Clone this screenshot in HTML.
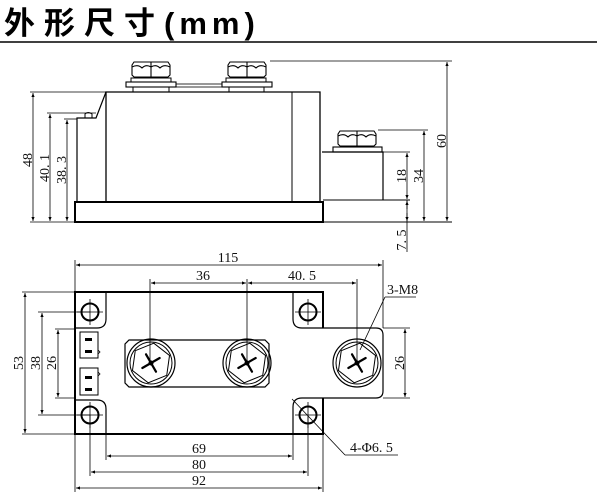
<!DOCTYPE html>
<html><head><meta charset="utf-8"><style>
html,body{margin:0;padding:0;background:#fff;width:600px;height:502px;overflow:hidden}
svg{display:block}
.t{font-family:"Liberation Serif",serif;font-size:14px;fill:#111}
</style></head><body>
<svg width="600" height="502" viewBox="0 0 600 502" xmlns="http://www.w3.org/2000/svg">
<defs>
<marker id="a" viewBox="0 0 10 10" refX="10" refY="5" markerWidth="7" markerHeight="5" orient="auto-start-reverse"><path d="M0,1 L10,5 L0,9 z" fill="#000"/></marker>
<g id="scr">
<circle r="24" fill="none" stroke="#000" stroke-width="1.2"/>
<circle r="21" fill="none" stroke="#000" stroke-width="1"/>
<polygon points="0,-20 17.3,-10 17.3,10 0,20 -17.3,10 -17.3,-10" fill="none" stroke="#000" stroke-width="1" transform="rotate(8)"/>
<g transform="rotate(-30)" stroke="#000" stroke-width="2.2" stroke-linecap="round"><line x1="-10" y1="0" x2="10" y2="0"/><line x1="0" y1="-10" x2="0" y2="10"/></g>
<circle r="2.5" fill="#000"/>
</g>
<g id="hole"><circle r="8.5" fill="none" stroke="#000" stroke-width="2"/><line x1="-13" y1="0" x2="13" y2="0" stroke="#000" stroke-width="0.8"/><line x1="0" y1="-13" x2="0" y2="13" stroke="#000" stroke-width="0.8"/></g>
<g id="nut"><path d="M2,0 H36 L38,3 V13 L36,15 H2 L0,13 V3 Z M19,0 V15 M0,5 Q6,2 10,6 Q14,2 19,5 Q24,2 28,6 Q32,2 38,5" fill="none" stroke="#000" stroke-width="1.1"/></g>
</defs>
<text x="4" y="34" style="font-family:'Liberation Sans','Noto Sans CJK SC',sans-serif;font-size:31px;font-weight:bold" fill="#000"><tspan style="letter-spacing:9px">外形尺寸</tspan><tspan style="letter-spacing:5px">(mm)</tspan></text>
<line x1="0" y1="42" x2="597" y2="42" stroke="#000" stroke-width="1.5"/>

<g fill="none" stroke="#000">
<rect x="75" y="202" width="248" height="20" stroke-width="2"/>
<path d="M106,202 V92 H320 V202" stroke-width="1.3"/>
<line x1="292" y1="92" x2="292" y2="202" stroke-width="1"/>
<path d="M77,202 V118 H96 L106,92" stroke-width="1.2"/>
<path d="M85,118 V114 Q88,111 92,114 V118" stroke-width="1"/>
<rect x="126" y="82" width="50" height="5" stroke-width="1.1"/>
<rect x="222" y="82" width="50" height="5" stroke-width="1.1"/>
<rect x="176" y="84" width="46" height="3" stroke-width="0.8"/>
<line x1="133" y1="87" x2="133" y2="92" stroke-width="1"/><line x1="169" y1="87" x2="169" y2="92" stroke-width="1"/>
<line x1="229" y1="87" x2="229" y2="92" stroke-width="1"/><line x1="264" y1="87" x2="264" y2="92" stroke-width="1"/>
<rect x="131" y="78" width="40" height="4" stroke-width="1"/>
<rect x="226" y="78" width="40" height="4" stroke-width="1"/>
<use href="#nut" x="132" y="62"/>
<use href="#nut" x="228" y="62"/>
<path d="M322,152 H383 V200" stroke-width="1.2"/>
<line x1="323" y1="200" x2="410" y2="200" stroke-width="1.1"/>
<line x1="323" y1="222" x2="452" y2="222" stroke-width="1"/>
<rect x="333" y="147" width="49" height="5" stroke-width="1.1"/>
<use href="#nut" x="338" y="131"/>
</g>
<g stroke="#000" stroke-width="0.8" fill="none">
<line x1="30" y1="92" x2="106" y2="92"/><line x1="30" y1="222" x2="75" y2="222"/>
<line x1="47" y1="113" x2="96" y2="113"/><line x1="64" y1="119" x2="77" y2="119"/>
<line x1="33" y1="93" x2="33" y2="221" marker-start="url(#a)" marker-end="url(#a)"/>
<line x1="50" y1="114" x2="50" y2="221" marker-start="url(#a)" marker-end="url(#a)"/>
<line x1="67" y1="120" x2="67" y2="221" marker-start="url(#a)" marker-end="url(#a)"/>
<line x1="270" y1="61" x2="452" y2="61"/><line x1="378" y1="130" x2="428" y2="130"/>
<line x1="383" y1="152" x2="410" y2="152"/>
<line x1="447" y1="62" x2="447" y2="221" marker-start="url(#a)" marker-end="url(#a)"/>
<line x1="424" y1="131" x2="424" y2="221" marker-start="url(#a)" marker-end="url(#a)"/>
<line x1="407" y1="153" x2="407" y2="199" marker-start="url(#a)" marker-end="url(#a)"/>
<line x1="407" y1="200" x2="407" y2="252"/>
<line x1="407" y1="209" x2="407" y2="201" marker-end="url(#a)"/>
<line x1="407" y1="213" x2="407" y2="221" marker-end="url(#a)"/>
</g>
<g class="t">
<text transform="translate(32,160) rotate(-90)" text-anchor="middle">48</text>
<text transform="translate(49,168) rotate(-90)" text-anchor="middle">40. 1</text>
<text transform="translate(66,170) rotate(-90)" text-anchor="middle">38. 3</text>
<text transform="translate(446,141) rotate(-90)" text-anchor="middle">60</text>
<text transform="translate(423,176) rotate(-90)" text-anchor="middle">34</text>
<text transform="translate(406,176) rotate(-90)" text-anchor="middle">18</text>
<text transform="translate(406,240) rotate(-90)" text-anchor="middle">7. 5</text>
</g>

<g fill="none" stroke="#000">
<path d="M323,328 V292 H75 V434 H323 V398" stroke-width="2"/>
<path d="M323,328 H376 Q383,328 383,335 V391 Q383,398 376,398 H323" stroke-width="1.2"/>
<path d="M106,292 V319 Q106,328 97,328 H75" stroke-width="1.2"/>
<path d="M75,400 H97 Q106,400 106,409 V434" stroke-width="1.2"/>
<path d="M293,292 V319 Q293,328 302,328 H323" stroke-width="1.2"/>
<path d="M323,398 H302 Q293,398 293,407 V434" stroke-width="1.2"/>
<rect x="80" y="332" width="18" height="26" stroke-width="1"/>
<rect x="80" y="368" width="18" height="27" stroke-width="1"/>
<path d="M98,350 l2,2 l-2,2 M98,372 l2,2 l-2,2" stroke-width="0.8"/>
<path d="M129,340 H265 L269,344 V383 L265,387 H129 L125,383 V344 Z" stroke-width="1.2"/>
</g>
<g fill="#000"><rect x="85" y="338" width="7" height="3"/><rect x="85" y="350" width="7" height="3"/><rect x="85" y="376" width="7" height="3"/><rect x="85" y="388" width="7" height="3"/></g>
<use href="#hole" x="90" y="312"/><use href="#hole" x="90" y="415"/>
<use href="#hole" x="308" y="312"/><use href="#hole" x="308" y="415"/>
<use href="#scr" x="151" y="363"/><use href="#scr" x="247" y="363"/><use href="#scr" x="357" y="363"/>
<g stroke="#000" stroke-width="0.8" fill="none">
<line x1="75" y1="260" x2="75" y2="292"/><line x1="383" y1="260" x2="383" y2="328"/>
<line x1="76" y1="265" x2="382" y2="265" marker-start="url(#a)" marker-end="url(#a)"/>
<line x1="150" y1="279" x2="150" y2="363"/><line x1="247" y1="279" x2="247" y2="363"/><line x1="357" y1="279" x2="357" y2="363"/>
<line x1="151" y1="283" x2="246" y2="283" marker-start="url(#a)" marker-end="url(#a)"/>
<line x1="248" y1="283" x2="356" y2="283" marker-start="url(#a)" marker-end="url(#a)"/>
<line x1="360" y1="350" x2="385" y2="297"/><line x1="385" y1="297" x2="416" y2="297"/>
<line x1="22" y1="292" x2="75" y2="292"/><line x1="22" y1="434" x2="75" y2="434"/>
<line x1="25" y1="293" x2="25" y2="433" marker-start="url(#a)" marker-end="url(#a)"/>
<line x1="38" y1="312" x2="90" y2="312"/><line x1="38" y1="415" x2="90" y2="415"/>
<line x1="42" y1="313" x2="42" y2="414" marker-start="url(#a)" marker-end="url(#a)"/>
<line x1="55" y1="329" x2="75" y2="329"/><line x1="55" y1="398" x2="75" y2="398"/>
<line x1="58" y1="330" x2="58" y2="397" marker-start="url(#a)" marker-end="url(#a)"/>
<line x1="383" y1="328" x2="410" y2="328"/><line x1="383" y1="398" x2="410" y2="398"/>
<line x1="405" y1="329" x2="405" y2="397" marker-start="url(#a)" marker-end="url(#a)"/>
<line x1="106" y1="434" x2="106" y2="460"/><line x1="293" y1="434" x2="293" y2="460"/>
<line x1="90" y1="415" x2="90" y2="476"/><line x1="308" y1="415" x2="308" y2="476"/>
<line x1="75" y1="434" x2="75" y2="492"/><line x1="323" y1="434" x2="323" y2="492"/>
<line x1="107" y1="456" x2="292" y2="456" marker-start="url(#a)" marker-end="url(#a)"/>
<line x1="91" y1="472" x2="307" y2="472" marker-start="url(#a)" marker-end="url(#a)"/>
<line x1="76" y1="488" x2="322" y2="488" marker-start="url(#a)" marker-end="url(#a)"/>
<line x1="292" y1="399" x2="345" y2="455"/><line x1="345" y1="455" x2="398" y2="455"/>
</g>
<g class="t">
<text x="228" y="262" text-anchor="middle">115</text>
<text x="203" y="280" text-anchor="middle">36</text>
<text x="302" y="280" text-anchor="middle">40. 5</text>
<text x="387" y="294">3-M8</text>
<text x="350" y="452">4-Φ6. 5</text>
<text x="199" y="453" text-anchor="middle">69</text>
<text x="199" y="469" text-anchor="middle">80</text>
<text x="199" y="485" text-anchor="middle">92</text>
<text transform="translate(23,363) rotate(-90)" text-anchor="middle">53</text>
<text transform="translate(40,363) rotate(-90)" text-anchor="middle">38</text>
<text transform="translate(56,363) rotate(-90)" text-anchor="middle">26</text>
<text transform="translate(404,363) rotate(-90)" text-anchor="middle">26</text>
</g>
</svg>
</body></html>
